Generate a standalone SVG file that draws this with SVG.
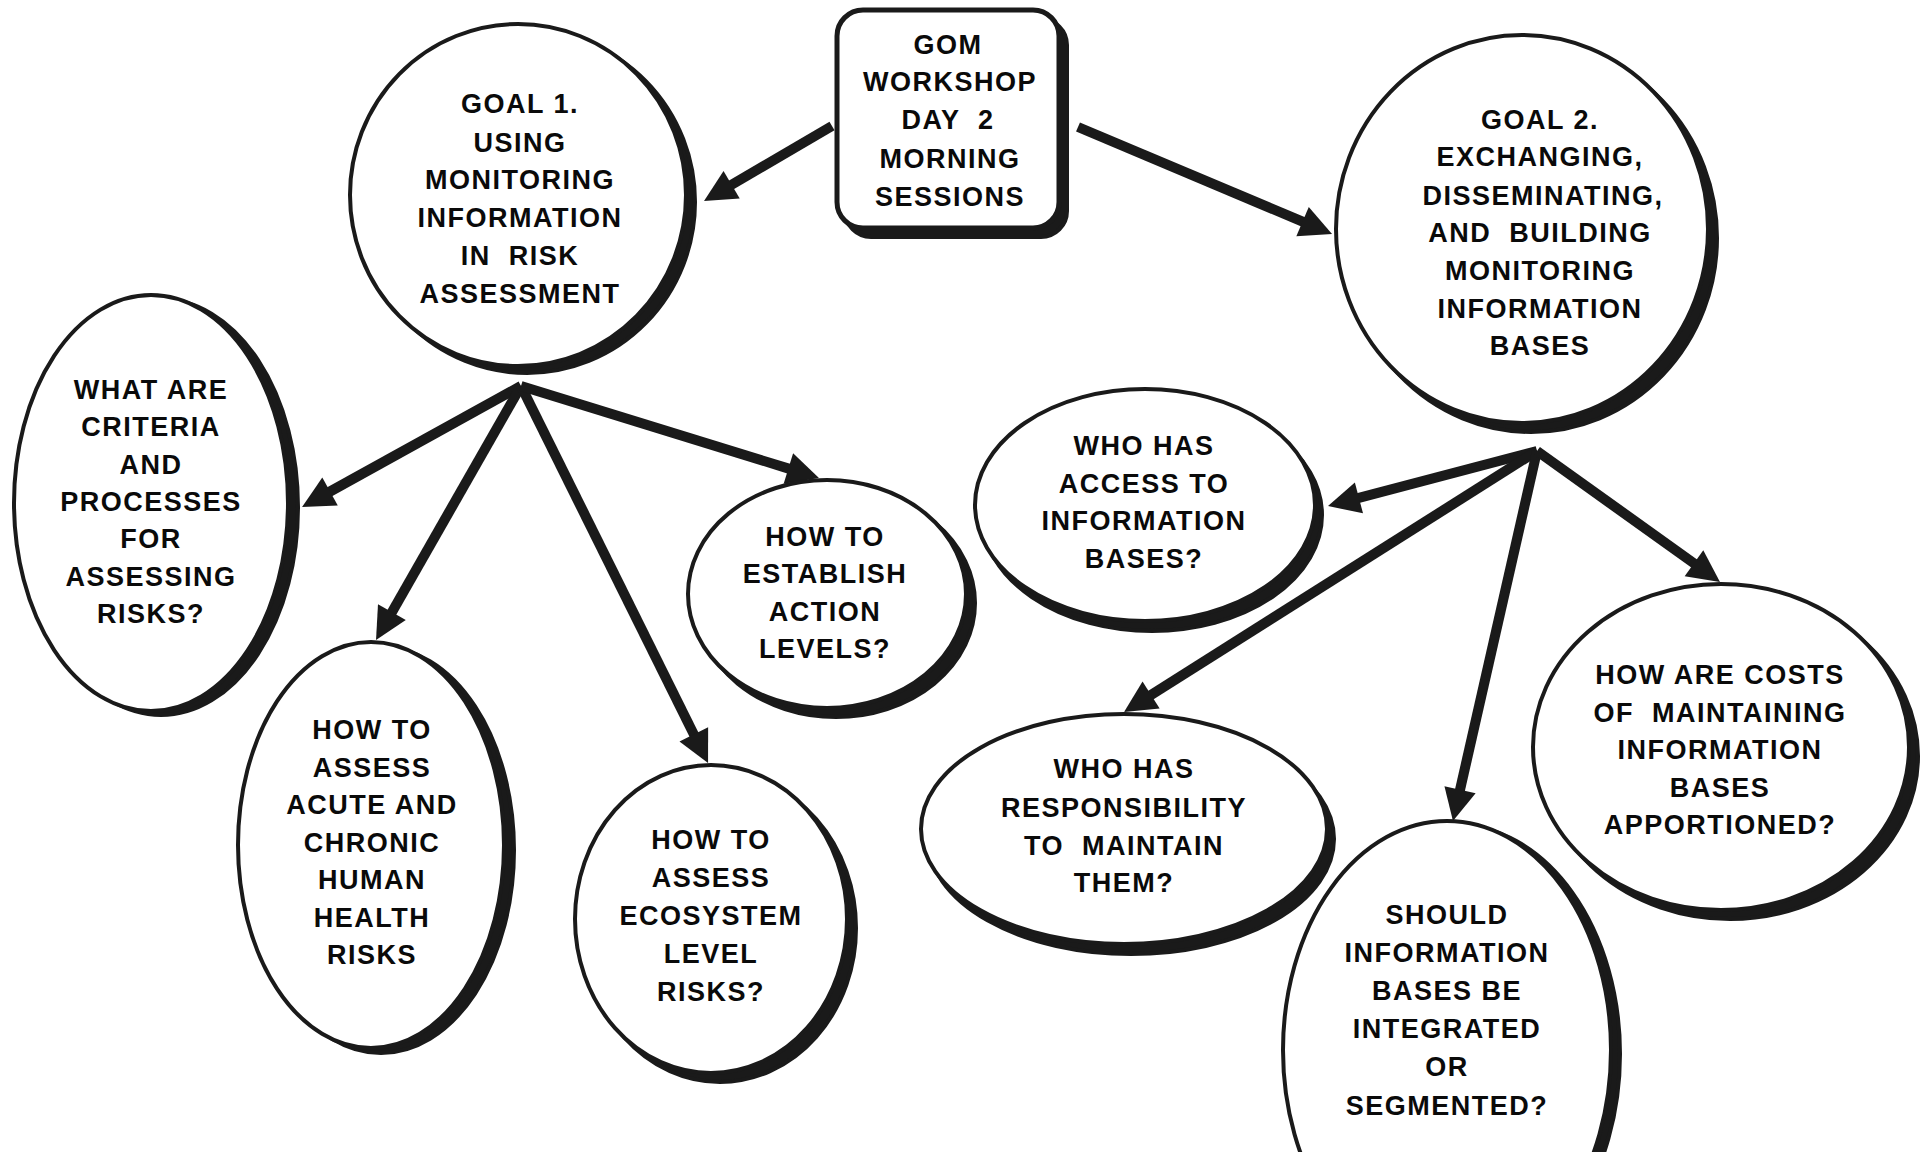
<svg xmlns="http://www.w3.org/2000/svg" width="1931" height="1152" viewBox="0 0 1931 1152">
<defs>
<style>
.sh{fill:#1a1a1a;stroke:#1a1a1a;stroke-width:4}
.nd{fill:#fff;stroke:#1a1a1a;stroke-width:4}
.bx{fill:#fff;stroke:#1a1a1a;stroke-width:5}
.t{font-family:"Liberation Sans",Arial,sans-serif;font-weight:bold;font-size:27px;letter-spacing:1.5px;fill:#0a0a0a;text-anchor:middle}
.w{word-spacing:9px}
.c{fill:none;stroke:#1a1a1a;stroke-width:10;marker-end:url(#ah)}
</style>
<marker id="ah" markerUnits="userSpaceOnUse" markerWidth="40" markerHeight="40" refX="0" refY="0" viewBox="0 -20 40 40" orient="auto" overflow="visible">
<path d="M-2,-16 L30,0 L-2,16 Z" fill="#1a1a1a"/>
</marker>
</defs>
<rect width="1931" height="1152" fill="#fff"/>

<g id="connectors">
<path class="c" d="M832,126 L729.9,185.8"/>
<path class="c" d="M1078,127 L1304.4,222.4"/>
<path class="c" d="M521,386 L328.3,492.5"/>
<path class="c" d="M521,386 L390.9,613.9"/>
<path class="c" d="M521,386 L694.7,736.1"/>
<path class="c" d="M521,386 L790.3,469.1"/>
<path class="c" d="M1537,451 L1357,498.4"/>
<path class="c" d="M1537,451 L1149.4,696"/>
<path class="c" d="M1537,451 L1459.6,791.7"/>
<path class="c" d="M1537,451 L1695.6,564.5"/>
</g>

<g id="center">
<rect class="sh" x="845" y="19" width="222" height="218" rx="26"/>
<rect class="bx" x="837" y="10" width="222" height="218" rx="26"/>
<text class="t" x="948" y="54">GOM</text>
<text class="t" x="950" y="91">WORKSHOP</text>
<text class="t w" x="948" y="129">DAY 2</text>
<text class="t" x="950" y="168">MORNING</text>
<text class="t" x="950" y="206">SESSIONS</text>
</g>

<g id="goal1">
<ellipse class="sh" cx="527" cy="202" rx="168" ry="171"/>
<ellipse class="nd" cx="518" cy="195" rx="168" ry="171"/>
<text class="t" x="520" y="113">GOAL 1.</text>
<text class="t" x="520" y="152">USING</text>
<text class="t" x="520" y="189">MONITORING</text>
<text class="t" x="520" y="227">INFORMATION</text>
<text class="t w" x="520" y="265">IN RISK</text>
<text class="t" x="520" y="303">ASSESSMENT</text>
</g>

<g id="goal2">
<ellipse class="sh" cx="1531" cy="238" rx="186" ry="194"/>
<ellipse class="nd" cx="1522" cy="229" rx="186" ry="194"/>
<text class="t" x="1540" y="129">GOAL 2.</text>
<text class="t" x="1540" y="166">EXCHANGING,</text>
<text class="t" x="1543" y="205">DISSEMINATING,</text>
<text class="t w" x="1540" y="242">AND BUILDING</text>
<text class="t" x="1540" y="280">MONITORING</text>
<text class="t" x="1540" y="318">INFORMATION</text>
<text class="t" x="1540" y="355">BASES</text>
</g>

<g id="criteria">
<ellipse class="sh" cx="161" cy="507" rx="137" ry="208"/>
<ellipse class="nd" cx="151" cy="503" rx="137" ry="208"/>
<text class="t" x="151" y="399">WHAT ARE</text>
<text class="t" x="151" y="436">CRITERIA</text>
<text class="t" x="151" y="474">AND</text>
<text class="t" x="151" y="511">PROCESSES</text>
<text class="t" x="151" y="548">FOR</text>
<text class="t" x="151" y="586">ASSESSING</text>
<text class="t" x="151" y="623">RISKS?</text>
</g>

<g id="health">
<ellipse class="sh" cx="381" cy="850" rx="133" ry="203"/>
<ellipse class="nd" cx="371" cy="845" rx="133" ry="203"/>
<text class="t" x="372" y="739">HOW TO</text>
<text class="t" x="372" y="777">ASSESS</text>
<text class="t" x="372" y="814">ACUTE AND</text>
<text class="t" x="372" y="852">CHRONIC</text>
<text class="t" x="372" y="889">HUMAN</text>
<text class="t" x="372" y="927">HEALTH</text>
<text class="t" x="372" y="964">RISKS</text>
</g>

<g id="ecosystem">
<ellipse class="sh" cx="720" cy="928" rx="136" ry="154"/>
<ellipse class="nd" cx="711" cy="919" rx="136" ry="154"/>
<text class="t" x="711" y="849">HOW TO</text>
<text class="t" x="711" y="887">ASSESS</text>
<text class="t" x="711" y="925">ECOSYSTEM</text>
<text class="t" x="711" y="963">LEVEL</text>
<text class="t" x="711" y="1001">RISKS?</text>
</g>

<g id="action">
<ellipse class="sh" cx="836" cy="603" rx="139" ry="114"/>
<ellipse class="nd" cx="827" cy="594" rx="139" ry="114"/>
<text class="t" x="825" y="546">HOW TO</text>
<text class="t" x="825" y="583">ESTABLISH</text>
<text class="t" x="825" y="621">ACTION</text>
<text class="t" x="825" y="658">LEVELS?</text>
</g>

<g id="access">
<ellipse class="sh" cx="1152" cy="515" rx="170" ry="116"/>
<ellipse class="nd" cx="1145" cy="505" rx="170" ry="116"/>
<text class="t" x="1144" y="455">WHO HAS</text>
<text class="t" x="1144" y="493">ACCESS TO</text>
<text class="t" x="1144" y="530">INFORMATION</text>
<text class="t" x="1144" y="568">BASES?</text>
</g>

<g id="responsibility">
<ellipse class="sh" cx="1131" cy="839" rx="203" ry="115"/>
<ellipse class="nd" cx="1124" cy="829" rx="203" ry="115"/>
<text class="t" x="1124" y="778">WHO HAS</text>
<text class="t" x="1124" y="817">RESPONSIBILITY</text>
<text class="t w" x="1124" y="855">TO MAINTAIN</text>
<text class="t" x="1124" y="892">THEM?</text>
</g>

<g id="integrated">
<ellipse class="sh" cx="1456" cy="1054" rx="164" ry="229"/>
<ellipse class="nd" cx="1447" cy="1050" rx="164" ry="229"/>
<text class="t" x="1447" y="924">SHOULD</text>
<text class="t" x="1447" y="962">INFORMATION</text>
<text class="t" x="1447" y="1000">BASES BE</text>
<text class="t" x="1447" y="1038">INTEGRATED</text>
<text class="t" x="1447" y="1076">OR</text>
<text class="t" x="1447" y="1115">SEGMENTED?</text>
</g>

<g id="costs">
<ellipse class="sh" cx="1730" cy="756" rx="188" ry="163"/>
<ellipse class="nd" cx="1721" cy="747" rx="188" ry="163"/>
<text class="t" x="1720" y="684">HOW ARE COSTS</text>
<text class="t w" x="1720" y="722">OF MAINTAINING</text>
<text class="t" x="1720" y="759">INFORMATION</text>
<text class="t" x="1720" y="797">BASES</text>
<text class="t" x="1720" y="834">APPORTIONED?</text>
</g>
</svg>
